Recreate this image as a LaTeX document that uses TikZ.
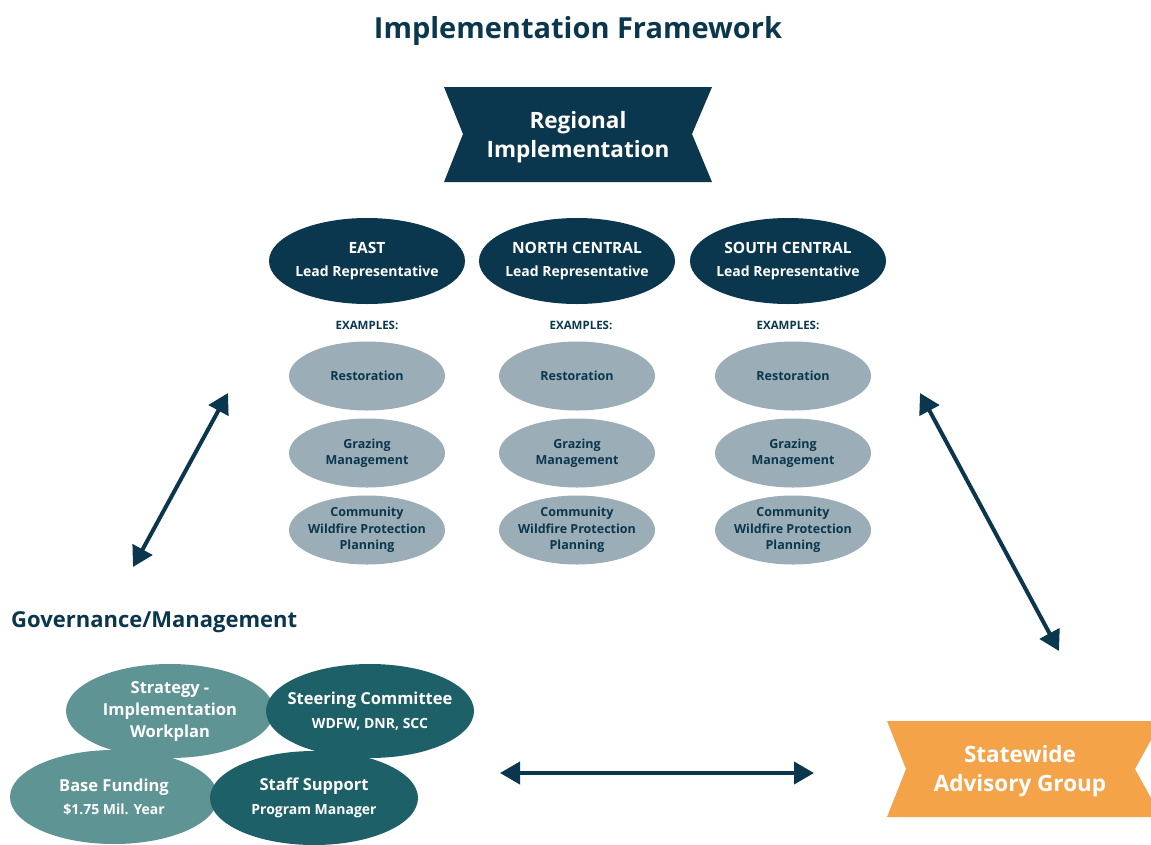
\documentclass[tikz,border=0pt]{standalone}
\usepackage{fontspec}
\setmainfont{Open Sans}
\usetikzlibrary{shapes.geometric,arrows.meta}
\definecolor{navy}{HTML}{0A374D}
\definecolor{grayblue}{HTML}{9BADB7}
\definecolor{lteal}{HTML}{5F9495}
\definecolor{dteal}{HTML}{1E6068}
\definecolor{orng}{HTML}{F5A348}
\tikzset{
  fixell/.style={ellipse, inner xsep=-40pt, inner ysep=-25pt, align=center},
  topell/.style={fixell, fill=navy, text=white, minimum width=196pt, minimum height=86pt, font=\bfseries\fontsize{14}{23}\selectfont},
  grayell/.style={fixell, fill=grayblue, text=navy, minimum width=156pt, minimum height=69pt, font=\bfseries\fontsize{12.5}{16.5}\selectfont},
  exlab/.style={text=navy, font=\bfseries\fontsize{11.5}{14}\selectfont, inner sep=0pt},
  govell/.style={fixell, minimum width=208pt, minimum height=94pt, text=white, font=\bfseries\fontsize{14}{23.5}\selectfont},
  bannertext/.style={text=white, align=center, inner sep=0pt, font=\bfseries\fontsize{22.5}{29.5}\selectfont},
  dblarrow/.style={draw=navy, line width=4pt, {Triangle[length=20pt,width=22pt]}-{Triangle[length=20pt,width=22pt]}}
}
\begin{document}
\begin{tikzpicture}[x=1pt,y=-1pt]
\useasboundingbox (0,0) rectangle (1151,844);
\fill[white] (0,0) rectangle (1151,844);
% title
\node[text=navy, font=\bfseries\fontsize{29}{32}\selectfont, inner sep=0pt] (title) at (578,31) {Implementation Framework};
% regional banner
\fill[navy] (444,87) -- (712,87) -- (692,134) -- (712,182) -- (444,182) -- (463,134) -- cycle;
\node[bannertext] (regional) at (578,137) {Regional\\Implementation};
% top ellipses
\foreach \n/\x/\t in {east/367/EAST, nc/577/NORTH CENTRAL, sc/788/SOUTH CENTRAL}{
  \node[topell] (\n) at (\x,261) {{\fontsize{15.5}{23}\selectfont \t}\\Lead Representative};
}
\foreach \n/\x/\xx in {e/367/367, n/581/577, s/788/793}{
  \node[exlab] (ex\n) at (\x,325) {EXAMPLES:};
  \node[grayell] (rest\n) at (\xx,376) {Restoration};
  \node[grayell] (graz\n) at (\xx,453) {Grazing\\Management};
  \node[grayell] (comm\n) at (\xx,530) {Community\\Wildfire Protection\\Planning};
}
% arrows
\coordinate (la1) at (133,567);
\coordinate (la2) at (228,393);
\coordinate (ra1) at (920,393);
\coordinate (ra2) at (1059,651);
\coordinate (ha1) at (500,773);
\coordinate (ha2) at (814,773);
\draw[dblarrow] (la1) -- (la2);
\draw[dblarrow] (ra1) -- (ra2);
\draw[dblarrow] (ha1) -- (ha2);
% governance
\node[text=navy, font=\bfseries\fontsize{22}{24}\selectfont, inner sep=0pt, anchor=west] (gov) at (11,622) {Governance/Management};
\node[govell, fill=lteal, font=\bfseries\fontsize{16.5}{22}\selectfont] (strat) at (170,711) {Strategy -\\Implementation\\Workplan};
\node[govell, fill=dteal] (steer) at (370,711) {{\fontsize{16.5}{23.5}\selectfont Steering Committee}\\WDFW, DNR, SCC};
\node[govell, fill=lteal] (fund) at (114,797) {{\fontsize{16.5}{23.5}\selectfont Base Funding}\\\$1.75 Mil. Year};
\node[govell, fill=dteal] (staff) at (314,798) {{\fontsize{16.5}{23.5}\selectfont Staff Support}\\Program Manager};
% statewide banner
\fill[orng] (887,721) -- (1151,721) -- (1151,740) -- (1135,769) -- (1151,798) -- (1151,817) -- (887,817) -- (906,769) -- cycle;
\node[bannertext] (statewide) at (1020,771) {Statewide\\Advisory Group};
\end{tikzpicture}
\end{document}
